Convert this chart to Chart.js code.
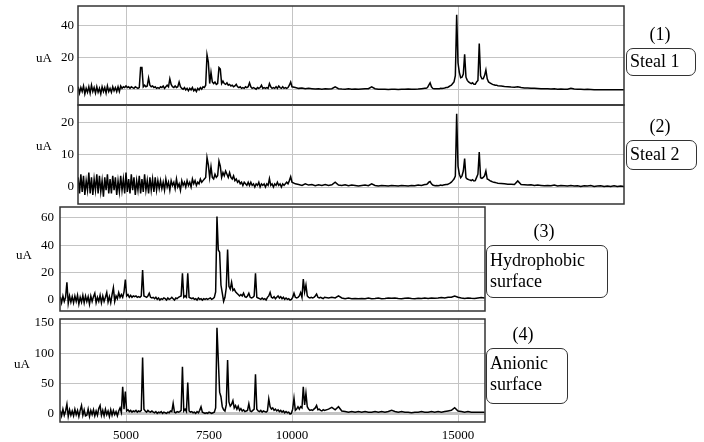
<!DOCTYPE html>
<html><head><meta charset="utf-8">
<script src="https://cdn.jsdelivr.net/npm/chart.js@4.4.1/dist/chart.umd.min.js"></script>
<style>
html,body{margin:0;padding:0;background:#fff;}
#wrap{position:relative;width:704px;height:442px;overflow:hidden;}
canvas{position:absolute;left:0;top:0;}
.t{position:absolute;font-family:'Liberation Serif','Times New Roman',serif;color:#000;white-space:nowrap;}
.num{font-size:18px;line-height:21px;text-align:center;width:40px;}
.box{font-size:18px;line-height:21px;border:1px solid #333;border-radius:7px;box-sizing:border-box;padding-left:3px;}
.ua{font-size:13px;line-height:15px;width:30px;text-align:center;}
</style></head>
<body><div id="wrap">
<canvas id="c1" width="704" height="442"></canvas>
<canvas id="c2" width="704" height="442"></canvas>
<canvas id="c3" width="704" height="442"></canvas>
<canvas id="c4" width="704" height="442"></canvas>
<div class="t ua" style="left:29px;top:50px;">uA</div>
<div class="t ua" style="left:29px;top:138px;">uA</div>
<div class="t ua" style="left:9px;top:247px;">uA</div>
<div class="t ua" style="left:7px;top:356px;">uA</div>
<div class="t num" style="left:640px;top:24px;">(1)</div>
<div class="t box" style="left:626px;top:48px;width:70px;height:28px;padding-top:2px;">Steal 1</div>
<div class="t num" style="left:640px;top:116px;">(2)</div>
<div class="t box" style="left:626px;top:140px;width:71px;height:30px;padding-top:3px;">Steal 2</div>
<div class="t num" style="left:524px;top:221px;">(3)</div>
<div class="t box" style="left:486px;top:245px;width:122px;height:53px;padding-top:4px;">Hydrophobic<br>surface</div>
<div class="t num" style="left:503px;top:324px;">(4)</div>
<div class="t box" style="left:486px;top:348px;width:82px;height:56px;padding-top:4px;">Anionic<br>surface</div>
</div>
<script>
// m/z sampling positions for panels (1) and (2)
const mzA = [
3560,3600,3640,3680,3720,3760,3800,3840,3880,3920,
3960,4000,4040,4080,4120,4160,4200,4240,4280,4320,
4360,4400,4440,4480,4520,4560,4600,4640,4680,4720,
4760,4800,4840,4880,4920,4960,5000,5040,5080,5120,
5160,5200,5240,5280,5320,5360,5400,5440,5480,5520,
5560,5600,5640,5680,5720,5760,5800,5840,5880,5920,
5960,6000,6040,6080,6120,6160,6200,6240,6280,6320,
6360,6400,6440,6480,6520,6560,6600,6640,6680,6720,
6760,6800,6840,6880,6920,6960,7000,7040,7080,7120,
7160,7200,7240,7280,7320,7360,7400,7440,7480,7520,
7560,7600,7640,7680,7720,7760,7800,7840,7880,7920,
7960,8000,8040,8080,8120,8160,8200,8240,8280,8320,
8360,8400,8440,8480,8520,8560,8600,8640,8680,8720,
8760,8800,8840,8880,8920,8960,9000,9040,9080,9120,
9160,9200,9240,9280,9320,9360,9400,9440,9480,9520,
9560,9600,9640,9680,9720,9760,9800,9840,9880,9920,
9960,10000,10100,10200,10300,10400,10500,10600,10700,10800,
10900,11000,11100,11200,11300,11400,11500,11600,11700,11800,
11900,12000,12100,12200,12300,12400,12500,12600,12700,12800,
12900,13000,13100,13200,13300,13400,13500,13600,13700,13800,
13900,14000,14040,14080,14120,14160,14200,14240,14280,14320,
14360,14400,14440,14480,14520,14560,14600,14640,14680,14720,
14760,14800,14840,14880,14920,14960,15000,15040,15080,15120,
15160,15200,15240,15280,15320,15360,15400,15440,15480,15520,
15560,15600,15640,15680,15720,15760,15800,15840,15880,15920,
15960,16000,16040,16080,16120,16160,16200,16300,16400,16500,
16600,16700,16800,16900,17000,17100,17200,17300,17400,17500,
17600,17700,17800,17900,18000,18100,18200,18300,18400,18500,
18600,18700,18800,18900,19000,19100,19200,19300,19400,19500,
19600,19700,19800,19900,20000];

const steal1 = [
2,-2,1.5,-1,2.5,-2.5,1,-1.5,2,-2,
3,-1,1.5,-2,2,-1.5,1,-2.5,2,-1,
1.5,-2,2.5,-1,1,-1.5,2,-0.5,1.5,-1,
2,-1,2.5,1,2,1.5,2.5,1.5,2,1,
2,1.5,1,2,1.5,1,1.5,14,14,2,
3,2,2.5,7.5,3,2,2.5,1.5,2,1,
1.5,1,2,1.5,2.5,1,2,3,2,7,
3.5,2,1.5,2.5,1.5,2,5,2,1,0.5,
1.5,0,1,-0.5,1,0,1.5,-0.5,0.5,-1,
1,0,1.5,0.5,2,1.5,3,22,17.5,4,
11,5,4,5,3.5,4,14,13,4,5.5,
4,3.5,4.5,3,3.5,2.5,3,2,2.5,3.5,
2,1.5,2,1,1.5,1,2,1.5,2,4.5,
2,1,1.5,1,0.5,1.5,1,1.5,3,1,
1.5,1,1.5,1,4,2,1,1.5,1,2,
1,2.5,1.5,1,2,1,1.5,1,1.5,3,
5,2,1.5,1,1.2,0.8,1,0.8,0.6,0.8,
0.5,0.7,0.6,0.8,2,0.8,0.6,0.5,0.7,0.5,
0.6,0.4,0.6,0.7,0.8,2,0.8,0.5,0.4,0.5,
0.3,0.5,0.4,0.3,0.5,0.4,0.6,0.4,0.5,0.6,
0.8,1,1,1.5,3,4.5,2,1,0.8,0.7,
0.8,0.7,0.8,1,0.9,1,1.2,1.5,1.5,2,
2.5,3,4,5,9,47,17,11,7.7,8,
10,22.3,8,6,5,4.5,4,4.5,3.5,3.5,
5,6,29,8.8,7,7,9,12.5,7,5,
4.5,4,3.5,3.2,3,3,2.7,2.5,2.2,2,
1.8,1.7,2,1.5,1.3,1.2,1.1,1,0.9,0.8,
0.8,0.7,0.6,0.7,0.5,0.6,0.4,0.5,1,0.6,
0.4,0.5,0.3,0.4,0.3,0.2,0.2,0.2,0.2,0.2,
0.2,0.2,0.2,0.2,0.2];

const steal2 = [
3,-2,4,-1.5,3.5,-2.5,2,-1,4.5,-2,
3,-2.5,2.5,-1,4,-2,3.5,-1.5,2,-3,
3,-1,4,-2,2.5,-2,3.5,-1,3,-2.5,
2,-1.5,3.5,-1,2.5,-2,4.5,-1.5,2.5,-2,
4,-1,3,-2.5,2,-1,3.5,-2,2.5,-1.5,
4,-1,2,-2,3,-1,2.5,-1.5,3,-1,
2,-0.5,2,-0.5,1.5,-1,2.5,0,1.5,-1,
2,0.5,1.5,-0.5,2.5,0,1,-1,2,0.5,
1.5,0,2,0.5,1.5,0,2.5,1,2,0.5,
1.5,1,2.5,1.5,2,2.5,3,9.2,6.9,3,
6.3,3,2.5,4,3,3.5,8.1,6.5,3,4.5,
3.5,5,4,3,4.5,3,2.5,3.5,2,2.5,
1.5,2,1,1.5,0.5,1.5,1,0.5,1.5,0.5,
1.5,0.5,1,0,1,0.5,1.5,0,1,0.5,
1,0,1,0.5,2.6,0.5,1,0,1,0.5,
1.5,0.5,1,0,1,0.5,1,1.5,1,2,
3.2,1.5,1,0.8,0.5,1,0.6,0.8,0.4,0.7,
0.5,0.8,0.5,0.7,1.5,0.6,0.5,0.7,0.4,0.6,
0.5,0.3,0.5,0.6,0.4,1,0.5,0.3,0.5,0.4,
0.3,0.5,0.4,0.3,0.5,0.4,0.3,0.5,0.4,0.6,
0.5,0.8,0.8,1,1.5,1.7,1,0.6,0.5,0.4,
0.5,0.4,0.5,0.6,0.5,0.6,0.7,0.8,0.8,1,
1.2,1.5,2,2.5,3.4,22.9,6.5,4,2.9,3.5,
5,8.85,2.9,2.5,2.3,2.2,2,2.3,1.9,2,
3,4,10.9,2.9,2.7,3,3.5,5,2.5,2.3,
2,1.8,1.6,1.5,1.4,1.3,1.2,1.1,1,0.9,
0.9,0.8,1.9,0.8,0.7,0.6,0.7,0.5,0.6,0.5,
0.4,0.5,0.4,0.6,0.3,0.5,0.4,0.3,0.5,0.3,
0.4,0.2,0.4,0.3,0.5,0.2,0.3,0.4,0.2,0.3,
0.2,0.4,0.2,0.3,0.2];

// m/z sampling positions for panels (3) and (4)
const mzB = [
3020,3060,3100,3140,3180,3220,3260,3300,3340,3380,
3420,3460,3500,3540,3580,3620,3660,3700,3740,3780,
3820,3860,3900,3940,3980,4020,4060,4100,4140,4180,
4220,4260,4300,4340,4380,4420,4460,4500,4540,4580,
4620,4660,4700,4740,4780,4820,4860,4900,4940,4980,
5020,5060,5100,5140,5180,5220,5260,5300,5340,5380,
5420,5460,5500,5540,5580,5620,5660,5700,5740,5780,
5820,5860,5900,5940,5980,6020,6060,6100,6140,6180,
6220,6260,6300,6340,6380,6420,6460,6500,6540,6580,
6620,6660,6700,6740,6780,6820,6860,6900,6940,6980,
7020,7060,7100,7140,7180,7220,7260,7300,7340,7380,
7420,7460,7500,7540,7580,7620,7660,7700,7740,7780,
7820,7860,7900,7940,7980,8020,8060,8100,8140,8180,
8220,8260,8300,8340,8380,8420,8460,8500,8540,8580,
8620,8660,8700,8740,8780,8820,8860,8900,8940,8980,
9020,9060,9100,9140,9180,9220,9260,9300,9340,9380,
9420,9460,9500,9540,9580,9620,9660,9700,9740,9780,
9820,9860,9900,9940,9980,10020,10060,10100,10140,10180,
10220,10260,10300,10340,10380,10420,10460,10500,10540,10580,
10620,10660,10700,10740,10780,10820,10860,10900,10940,10980,
11100,11200,11300,11400,11500,11600,11700,11800,11900,12000,
12100,12200,12300,12400,12500,12600,12700,12800,12900,13000,
13100,13200,13300,13400,13500,13600,13700,13800,13900,14000,
14100,14200,14300,14400,14500,14600,14700,14800,14900,15000,
15100,15200,15300,15400,15500,15600,15700,15800];

const hydrophobic = [
2.5,-2,3,-1,2,13,-2.5,3,-1.5,2.5,
-2,3,-1,3.5,-3,2,-1.5,3.5,-2,3,
-1,2.5,-3,3,-1,2.5,5,-2,2,-1,
3.5,-2,3,-1,2,5.5,-1.5,2.5,-2,4,
9,-1,3,1,5.5,2,4,2,6,15,
3,4,2,3.5,2,3,2.5,3,2,2.5,
2,3,22,3,2.5,2,3,5,2,1.5,
2,1,2,0.5,1.5,0,1,0.5,1.5,1,
0,1.5,0.5,1,2,1,0,1.5,1,2,
2.5,3,19.5,2,3,2,19.5,2,1.5,1,
1.5,0.5,1,0,1.5,0.5,1,0,1,0.5,
1,0.5,1,1.5,0.5,1,2,6,61,36.6,
35,11,5,-1,2,9,37,10,8,13,
7,8,6,5,4,3,4,3,5,2.5,
2,3,5,2,1.5,2,3,19.5,2,1.5,
1,0.5,1.5,0.5,1,0,2,3,5.6,2,
1.5,2.5,1,2,3,1.5,2.5,1,2,0.5,
1.5,0.5,1,0,0.5,2,5,2,1.5,2,
3,5.5,2,15.3,6,11,3,2,1.5,2,
1.5,2,3,4.4,2,1.5,2,1.5,1,2,
1.5,2,1.5,3,1.5,1,1.5,1,1.2,1,
1.2,1,1.5,1,1.2,1.5,1,1.2,1.5,1.3,
1.5,1.2,1,1.3,1.5,1.2,1,1.4,1.2,1.5,
1.2,1.5,1.3,1.5,1.8,1.5,2,2,3,2,
1.5,1.2,1.5,1.3,1.2,1.5,1.8,1.5];

const anionic = [
6,-3,8,-2,5,16,-4,7,-2,5,
-3,8,-1,6,-4,6,14,-2,7,-3,
-2,8,-4,6,-1,7,-3,5,-2,9,
14,-2,6,-3,8,-1,5,-4,7,-2,
6,-1,4,-3,5,10,3,45,8,37,
5,7,4,6,3,5,4,6,3,5,
4,6,93,8,5,3,6,4,3,5,
3,2,4,1,3,2,4,1,3,2,
1,3,2,5,4,17.5,3,2,4,3,
4,6,78,5,8,4,52,5,3,4,
2,3,1,4,2,6,12,3,2,1,
2,1,3,2,1,2,3,10,142,89,
36,28.5,12,7,5,15,89,20,13,16,
22,10,14,8,13,6,9,5,7,4,
5,6,17,5,4,6,8,65.5,8,5,
4,6,3,5,4,3,5,25,12,8,
10,6,8,5,7,4,6,3,5,2,
4,2,3,0,1,8,26,6,8,12,
8,12,10,45,15,34,12,8,6,7,
6,8,10,14,7,8,6,5,7,6,
8,11,7,12,5,4,3,4,3,4,
3,4,3,3,4,3,4,3,4,6,
4,3,4,3,3,2,3,3,4,3,
3,4,3,4,3,4,5,6,10.4,5,
4,3,4,3,3,3,3,3];

const ticksY1 = [0, 20, 40];
const ticksY2 = [0, 10, 20];
const ticksY3 = [0, 20, 40, 60];
const ticksY4 = [0, 50, 100, 150];
const gridX = [5000, 10000, 15000];
const labelsX = [5000, 7500, 10000, 15000];

const FONT = {family: "'Liberation Serif','Times New Roman',serif", size: 13};
const GRID = '#c4c4c4';

const frame = {
  id: 'frame',
  afterDraw(c) {
    const a = c.chartArea, ctx = c.ctx;
    ctx.save();
    ctx.strokeStyle = '#333';
    ctx.lineWidth = 1.5;
    ctx.strokeRect(a.left, a.top, a.right - a.left, a.bottom - a.top);
    ctx.restore();
  }
};

function spectrum(id, mz, vals, o) {
  const n = Math.min(mz.length, vals.length);
  const pts = [];
  for (let i = 0; i < n; i++) pts.push({x: mz[i], y: vals[i]});
  return new Chart(document.getElementById(id), {
    type: 'line',
    data: {datasets: [{data: pts, borderColor: '#000', borderWidth: 1.5, pointRadius: 0, fill: false, tension: 0}]},
    options: {
      responsive: false, animation: false, devicePixelRatio: 1,
      layout: {padding: o.pad},
      plugins: {legend: {display: false}, tooltip: {enabled: false}},
      scales: {
        x: {
          type: 'linear', min: o.xmin, max: o.xmax,
          afterBuildTicks: s => { s.ticks = o.xticks.map(v => ({value: v})); },
          afterFit: s => { s.height = o.xh; s.paddingLeft = 0; s.paddingRight = 0; },
          border: {display: false},
          grid: {drawTicks: false, lineWidth: 1,
                 color: ctx => (ctx.tick && gridX.includes(ctx.tick.value)) ? GRID : 'rgba(0,0,0,0)'},
          ticks: {display: o.showX, autoSkip: false, maxRotation: 0, minRotation: 0, padding: 6,
                  font: FONT, color: '#000', callback: v => String(v)}
        },
        y: {
          type: 'linear', min: o.ymin, max: o.ymax,
          afterBuildTicks: s => { s.ticks = o.yticks.map(v => ({value: v})); },
          afterFit: s => { s.width = o.yw; s.paddingTop = 0; s.paddingBottom = 0; },
          border: {display: false},
          grid: {drawTicks: false, color: GRID,
                 lineWidth: ctx => (o.thickZero && ctx.tick && ctx.tick.value === 0) ? 3 : 1},
          ticks: {padding: o.ytp, font: FONT, color: '#000', callback: v => String(v)}
        }
      }
    },
    plugins: [frame]
  });
}

spectrum('c1', mzA, steal1, {pad: {left: 0, top: 6, right: 80, bottom: 337}, xmin: 3554, xmax: 20000,
  xticks: gridX, xh: 0, showX: false, ymin: -9.4, ymax: 52.5, yticks: ticksY1, yw: 78, ytp: 4});
spectrum('c2', mzA, steal2, {pad: {left: 0, top: 105, right: 80, bottom: 238}, xmin: 3554, xmax: 20000,
  xticks: gridX, xh: 0, showX: false, ymin: -5.3, ymax: 25.6, yticks: ticksY2, yw: 78, ytp: 4});
spectrum('c3', mzB, hydrophobic, {pad: {left: 0, top: 207, right: 219, bottom: 131}, xmin: 3012, xmax: 15813,
  xticks: gridX, xh: 0, showX: false, ymin: -8, ymax: 68, yticks: ticksY3, yw: 60, ytp: 6});
spectrum('c4', mzB, anionic, {pad: {left: 0, top: 319, right: 219, bottom: 0}, xmin: 3012, xmax: 15813,
  xticks: labelsX, xh: 20, showX: true, ymin: -13.2, ymax: 156.6, yticks: ticksY4, yw: 60, ytp: 6, thickZero: true});
</script>
</body></html>
